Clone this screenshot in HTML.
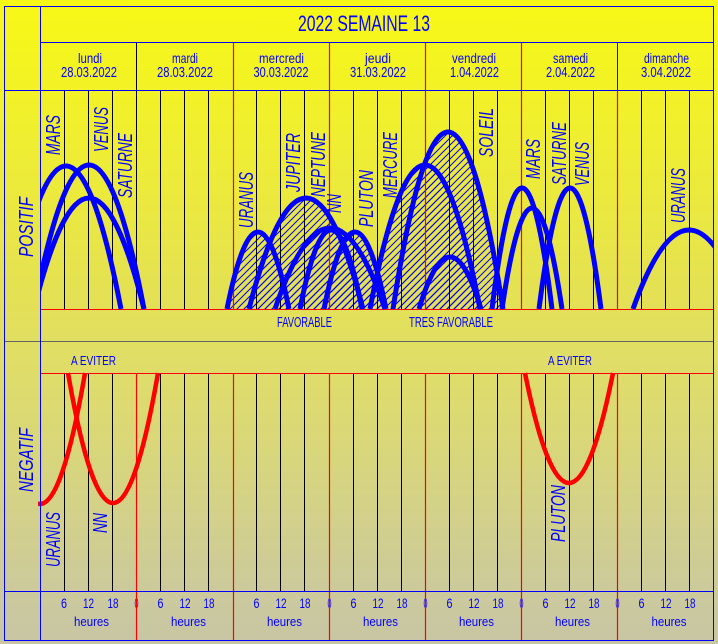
<!DOCTYPE html>
<html>
<head>
<meta charset="utf-8">
<style>
  html,body{margin:0;padding:0;background:#e8e650;}
  svg{display:block;}
  text{font-family:"Liberation Sans", sans-serif; fill:#0000ff;}
</style>
</head>
<body>
<svg width="718" height="644" viewBox="0 0 718 644" xmlns="http://www.w3.org/2000/svg">
  <defs>
    <linearGradient id="bg" x1="0" y1="0" x2="0" y2="1">
      <stop offset="0" stop-color="#f8f816"/>
      <stop offset="0.14" stop-color="#f2f226"/>
      <stop offset="0.31" stop-color="#ebe93e"/>
      <stop offset="0.48" stop-color="#e3e058"/>
      <stop offset="0.53" stop-color="#e1df62"/>
      <stop offset="0.71" stop-color="#d8d67c"/>
      <stop offset="0.93" stop-color="#cbc99d"/>
      <stop offset="1" stop-color="#c8c6a4"/>
    </linearGradient>
    <pattern id="h" patternUnits="userSpaceOnUse" width="7" height="7">
      <path d="M-1,1 L1,-1 M0,7 L7,0 M6,8 L8,6" stroke="#0000ff" stroke-width="1"/>
    </pattern>
    <clipPath id="cpos"><rect x="40.5" y="90" width="673" height="221"/></clipPath>
    <clipPath id="cneg"><rect x="38" y="371" width="676" height="220"/></clipPath>
  </defs>

  <rect x="0" y="0" width="718" height="644" fill="url(#bg)"/>

  <!-- hatched areas -->
  <g clip-path="url(#cpos)" fill="url(#h)" stroke="none">
    <path d="M227 309 Q258 155 289 309 Z"/>
    <path d="M249 309 Q306 87 363 309 Z"/>
    <path d="M275 309 Q330 147 385 309 Z"/>
    <path d="M300 309 Q331 151 362 309 Z"/>
    <path d="M324 309 Q355 155 386 309 Z"/>
    <path d="M370 309 Q425 21 480 309 Z"/>
    <path d="M393 309 Q448 -45 503 309 Z"/>
    <path d="M419 309 Q450 205 481 309 Z"/>
  </g>

  <!-- positive grid -->
  <g stroke="#000" stroke-width="1">
    <path d="M64.5 90.5V309.5M88.5 90.5V309.5M112.5 90.5V309.5M136.5 90.5V309.5M160.5 90.5V309.5M184.5 90.5V309.5M208.5 90.5V309.5M256.5 90.5V309.5M280.5 90.5V309.5M304.5 90.5V309.5M353.5 90.5V309.5M377.5 90.5V309.5M401.5 90.5V309.5M449.5 90.5V309.5M473.5 90.5V309.5M497.5 90.5V309.5M545.5 90.5V309.5M569.5 90.5V309.5M593.5 90.5V309.5M641.5 90.5V309.5M665.5 90.5V309.5M689.5 90.5V309.5"/>
  </g>
  <g stroke="#ff0000" stroke-width="1.2">
    <path d="M233.5 90.5V309.5M329.5 90.5V309.5M425.5 90.5V309.5M521.5 90.5V309.5M617.5 90.5V309.5"/>
  </g>
  <path d="M40.5 309.5H713.5" stroke="#ff0000" stroke-width="1"/>

  <!-- negative grid -->
  <g stroke="#000" stroke-width="1">
    <path d="M64.5 373.5V591.5M88.5 373.5V591.5M112.5 373.5V591.5M160.5 373.5V591.5M184.5 373.5V591.5M208.5 373.5V591.5M256.5 373.5V591.5M280.5 373.5V591.5M304.5 373.5V591.5M353.5 373.5V591.5M377.5 373.5V591.5M401.5 373.5V591.5M449.5 373.5V591.5M473.5 373.5V591.5M497.5 373.5V591.5M545.5 373.5V591.5M569.5 373.5V591.5M593.5 373.5V591.5M641.5 373.5V591.5M665.5 373.5V591.5M689.5 373.5V591.5"/>
  </g>
  <path d="M4.5 341.5H713.5" stroke="#646464" stroke-width="1"/>

  <!-- header dividers -->
  <path d="M136.5 42.5V90.5" stroke="#000" stroke-width="1"/>
  <path d="M233.5 42.5V90.5M329.5 42.5V90.5M425.5 42.5V90.5M521.5 42.5V90.5" stroke="#ff0000" stroke-width="1.2"/>
  <path d="M617.5 42.5V90.5" stroke="#0000ff" stroke-width="1"/>

  <!-- blue arcs -->
  <g clip-path="url(#cpos)" fill="none" stroke="#0000ff" stroke-width="5">
    <path d="M11 309 Q66 23 121 309"/>
    <path d="M34 309 Q89 21 144 309"/>
    <path d="M34 309 Q89 87 144 309"/>
    <path d="M227 309 Q258 155 289 309"/>
    <path d="M249 309 Q306 87 363 309"/>
    <path d="M275 309 Q330 147 385 309"/>
    <path d="M300 309 Q331 151 362 309"/>
    <path d="M324 309 Q355 155 386 309"/>
    <path d="M370 309 Q425 21 480 309"/>
    <path d="M393 309 Q448 -45 503 309"/>
    <path d="M419 309 Q450 205 481 309"/>
    <path d="M492 309 Q522 67 552 309"/>
    <path d="M502 309 Q532 107 562 309"/>
    <path d="M539 309 Q570 67 601 309"/>
    <path d="M633 309 Q689 151 745 309"/>
  </g>

  <!-- bottom text numbers (under red lines) -->
  <g font-size="14" text-anchor="middle">
    <text x="64" y="608" textLength="6" lengthAdjust="spacingAndGlyphs">6</text><text x="88.5" y="608" textLength="11" lengthAdjust="spacingAndGlyphs">12</text><text x="113" y="608" textLength="11" lengthAdjust="spacingAndGlyphs">18</text><text x="136.5" y="608" textLength="4" lengthAdjust="spacingAndGlyphs">0</text>
    <text x="160.5" y="608" textLength="6" lengthAdjust="spacingAndGlyphs">6</text><text x="185" y="608" textLength="11" lengthAdjust="spacingAndGlyphs">12</text><text x="209" y="608" textLength="11" lengthAdjust="spacingAndGlyphs">18</text>
    <text x="256.5" y="608" textLength="6" lengthAdjust="spacingAndGlyphs">6</text><text x="281" y="608" textLength="11" lengthAdjust="spacingAndGlyphs">12</text><text x="305" y="608" textLength="11" lengthAdjust="spacingAndGlyphs">18</text><text x="329.5" y="608" textLength="4" lengthAdjust="spacingAndGlyphs">0</text>
    <text x="353.5" y="608" textLength="6" lengthAdjust="spacingAndGlyphs">6</text><text x="378" y="608" textLength="11" lengthAdjust="spacingAndGlyphs">12</text><text x="402" y="608" textLength="11" lengthAdjust="spacingAndGlyphs">18</text><text x="425.5" y="608" textLength="4" lengthAdjust="spacingAndGlyphs">0</text>
    <text x="449.5" y="608" textLength="6" lengthAdjust="spacingAndGlyphs">6</text><text x="474" y="608" textLength="11" lengthAdjust="spacingAndGlyphs">12</text><text x="498" y="608" textLength="11" lengthAdjust="spacingAndGlyphs">18</text><text x="521.5" y="608" textLength="4" lengthAdjust="spacingAndGlyphs">0</text>
    <text x="545.5" y="608" textLength="6" lengthAdjust="spacingAndGlyphs">6</text><text x="570" y="608" textLength="11" lengthAdjust="spacingAndGlyphs">12</text><text x="594" y="608" textLength="11" lengthAdjust="spacingAndGlyphs">18</text><text x="617.5" y="608" textLength="4" lengthAdjust="spacingAndGlyphs">0</text>
    <text x="641.5" y="608" textLength="6" lengthAdjust="spacingAndGlyphs">6</text><text x="666" y="608" textLength="11" lengthAdjust="spacingAndGlyphs">12</text><text x="690" y="608" textLength="11" lengthAdjust="spacingAndGlyphs">18</text>
  </g>

  <!-- red lines negative / bottom -->
  <g stroke="#ff0000" stroke-width="1.2">
    <path d="M136.5 373.5V640.5M233.5 373.5V640.5M329.5 373.5V640.5M425.5 373.5V640.5M521.5 373.5V640.5M617.5 373.5V640.5"/>
  </g>
  <path d="M40.5 373.5H713.5" stroke="#ff0000" stroke-width="1"/>

  <!-- red curves -->
  <g clip-path="url(#cneg)" fill="none" stroke="#ff0000" stroke-width="4.5">
    <path d="M-5 373 Q40 635 85 373"/>
    <path d="M68 373 Q113 633 158 373"/>
    <path d="M525 373 Q569 593 613 373"/>
  </g>

  <!-- blue frame -->
  <g stroke="#0000ff" stroke-width="1" fill="none">
    <rect x="4.5" y="6.5" width="709" height="634"/>
    <path d="M40.5 6.5V640.5"/>
    <path d="M40.5 42.5H713.5"/>
    <path d="M4.5 90.5H713.5"/>
    <path d="M4.5 591.5H713.5"/>
  </g>

  <!-- header text -->
  <text x="364" y="31" font-size="22" text-anchor="middle" textLength="132" lengthAdjust="spacingAndGlyphs">2022 SEMAINE 13</text>
  <g font-size="14" text-anchor="middle">
    <text x="90" y="63" textLength="24" lengthAdjust="spacingAndGlyphs">lundi</text>
    <text x="185" y="63" textLength="26" lengthAdjust="spacingAndGlyphs">mardi</text>
    <text x="281.5" y="63" textLength="45" lengthAdjust="spacingAndGlyphs">mercredi</text>
    <text x="378" y="63" textLength="26" lengthAdjust="spacingAndGlyphs">jeudi</text>
    <text x="474" y="63" textLength="44" lengthAdjust="spacingAndGlyphs">vendredi</text>
    <text x="570.5" y="63" textLength="35" lengthAdjust="spacingAndGlyphs">samedi</text>
    <text x="666.5" y="63" textLength="45" lengthAdjust="spacingAndGlyphs">dimanche</text>
  </g>
  <g font-size="15" text-anchor="middle">
    <text x="89" y="77" textLength="56" lengthAdjust="spacingAndGlyphs">28.03.2022</text>
    <text x="185" y="77" textLength="56" lengthAdjust="spacingAndGlyphs">28.03.2022</text>
    <text x="281" y="77" textLength="55" lengthAdjust="spacingAndGlyphs">30.03.2022</text>
    <text x="378" y="77" textLength="56" lengthAdjust="spacingAndGlyphs">31.03.2022</text>
    <text x="474.5" y="77" textLength="49" lengthAdjust="spacingAndGlyphs">1.04.2022</text>
    <text x="570.5" y="77" textLength="49" lengthAdjust="spacingAndGlyphs">2.04.2022</text>
    <text x="666" y="77" textLength="50" lengthAdjust="spacingAndGlyphs">3.04.2022</text>
  </g>

  <!-- rotated labels -->
  <g font-size="20" font-style="italic">
    <text transform="translate(60,155) rotate(-90)" textLength="40" lengthAdjust="spacingAndGlyphs">MARS</text>
    <text transform="translate(108,152) rotate(-90)" textLength="45" lengthAdjust="spacingAndGlyphs">VENUS</text>
    <text transform="translate(132,198) rotate(-90)" textLength="65" lengthAdjust="spacingAndGlyphs">SATURNE</text>
    <text transform="translate(33,257) rotate(-90)" textLength="60" lengthAdjust="spacingAndGlyphs">POSITIF</text>
    <text transform="translate(253,228) rotate(-90)" textLength="56" lengthAdjust="spacingAndGlyphs">URANUS</text>
    <text transform="translate(300,192) rotate(-90)" textLength="59" lengthAdjust="spacingAndGlyphs">JUPITER</text>
    <text transform="translate(325,197) rotate(-90)" textLength="65" lengthAdjust="spacingAndGlyphs">NEPTUNE</text>
    <text transform="translate(341,213) rotate(-90)" textLength="19" lengthAdjust="spacingAndGlyphs">NN</text>
    <text transform="translate(373,227) rotate(-90)" textLength="57" lengthAdjust="spacingAndGlyphs">PLUTON</text>
    <text transform="translate(397,198) rotate(-90)" textLength="66" lengthAdjust="spacingAndGlyphs">MERCURE</text>
    <text transform="translate(493,157) rotate(-90)" textLength="49" lengthAdjust="spacingAndGlyphs">SOLEIL</text>
    <text transform="translate(540,179) rotate(-90)" textLength="40" lengthAdjust="spacingAndGlyphs">MARS</text>
    <text transform="translate(566,185) rotate(-90)" textLength="63" lengthAdjust="spacingAndGlyphs">SATURNE</text>
    <text transform="translate(589,186) rotate(-90)" textLength="44" lengthAdjust="spacingAndGlyphs">VENUS</text>
    <text transform="translate(685,223) rotate(-90)" textLength="55" lengthAdjust="spacingAndGlyphs">URANUS</text>
    <text transform="translate(33,492) rotate(-90)" textLength="64" lengthAdjust="spacingAndGlyphs">NEGATIF</text>
    <text transform="translate(60,567) rotate(-90)" textLength="55" lengthAdjust="spacingAndGlyphs">URANUS</text>
    <text transform="translate(107,533) rotate(-90)" textLength="20" lengthAdjust="spacingAndGlyphs">NN</text>
    <text transform="translate(565,542) rotate(-90)" textLength="57" lengthAdjust="spacingAndGlyphs">PLUTON</text>
  </g>

  <!-- section labels -->
  <g text-anchor="middle">
    <text x="304.5" y="327" font-size="15" textLength="55" lengthAdjust="spacingAndGlyphs">FAVORABLE</text>
    <text x="451" y="327" font-size="15" textLength="84" lengthAdjust="spacingAndGlyphs">TRES FAVORABLE</text>
    <text x="93.5" y="365" font-size="13" textLength="45" lengthAdjust="spacingAndGlyphs">A EVITER</text>
    <text x="570" y="365" font-size="13" textLength="44" lengthAdjust="spacingAndGlyphs">A EVITER</text>
  </g>
  <g font-size="13" text-anchor="middle">
    <text x="91.5" y="626" textLength="35" lengthAdjust="spacingAndGlyphs">heures</text>
    <text x="188.5" y="626" textLength="35" lengthAdjust="spacingAndGlyphs">heures</text>
    <text x="284.5" y="626" textLength="35" lengthAdjust="spacingAndGlyphs">heures</text>
    <text x="380.5" y="626" textLength="35" lengthAdjust="spacingAndGlyphs">heures</text>
    <text x="476.5" y="626" textLength="35" lengthAdjust="spacingAndGlyphs">heures</text>
    <text x="572.5" y="626" textLength="35" lengthAdjust="spacingAndGlyphs">heures</text>
    <text x="669" y="626" textLength="35" lengthAdjust="spacingAndGlyphs">heures</text>
  </g>
</svg>
</body>
</html>
